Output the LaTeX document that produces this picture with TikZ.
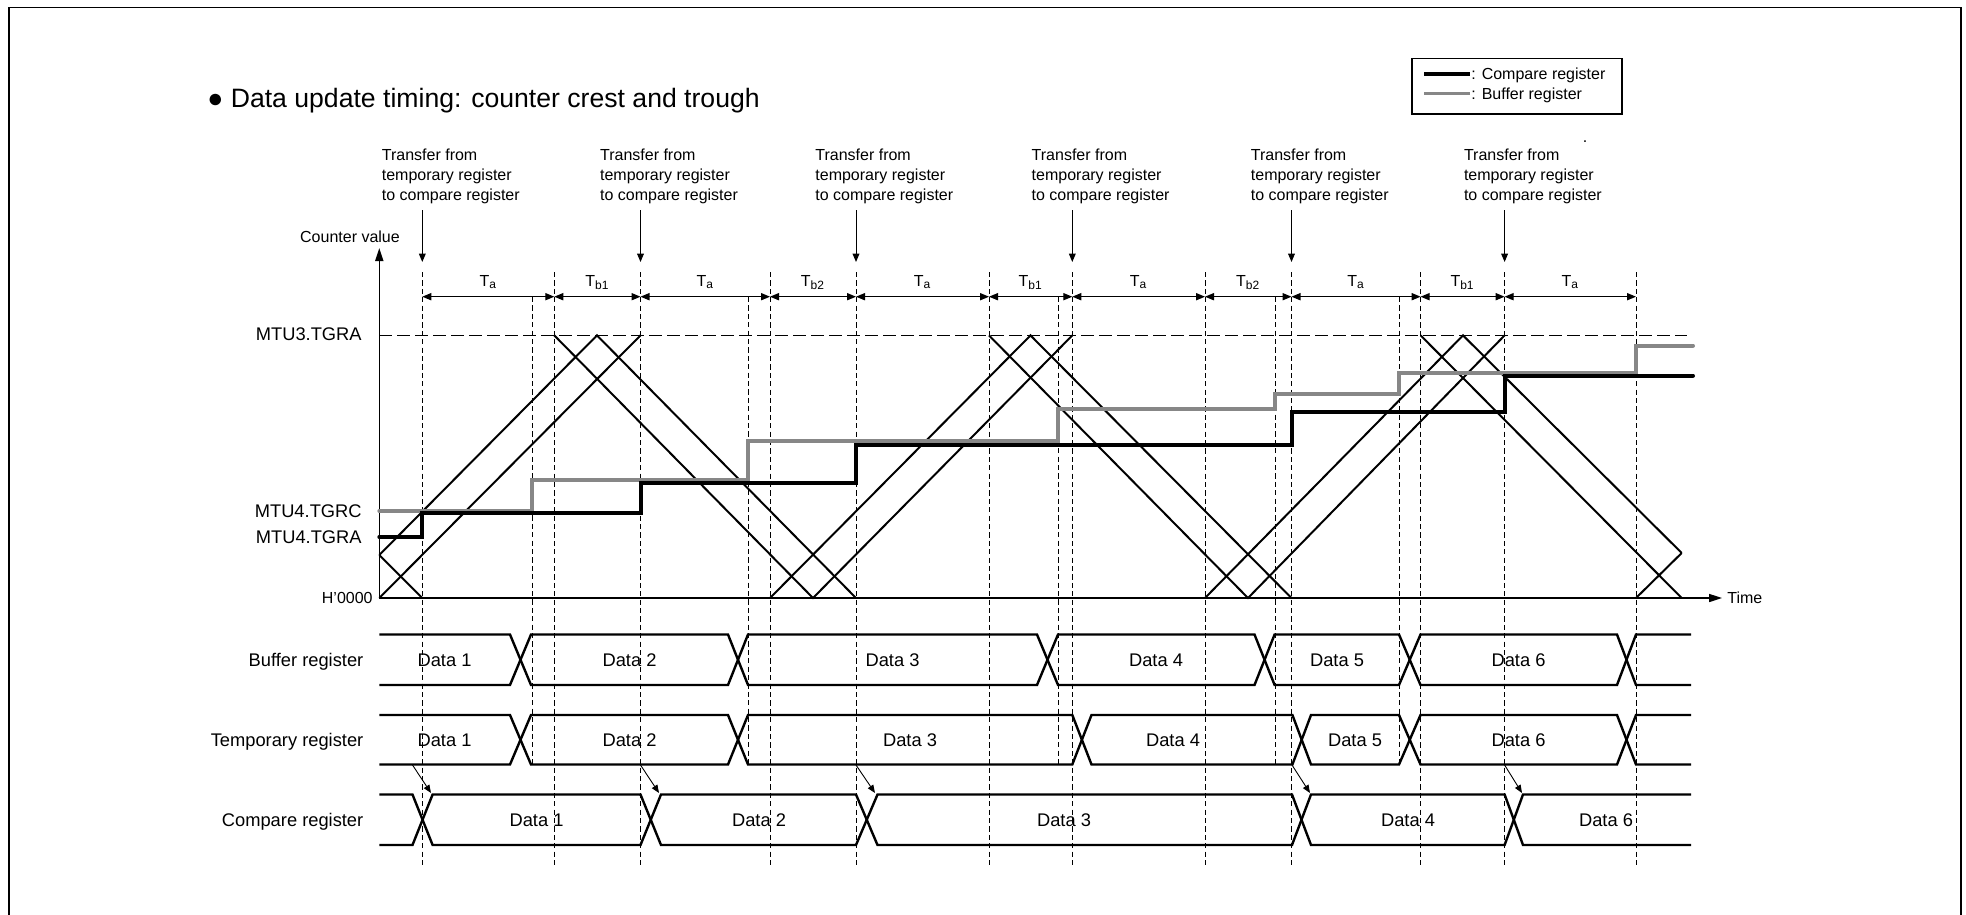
\documentclass[tikz,border=0pt]{standalone}
\usepackage{fontspec}
\setmainfont{Liberation Sans}
\usetikzlibrary{arrows.meta,positioning}
\definecolor{regBlack}{HTML}{000000}
\definecolor{regGray}{HTML}{878787}

\begin{document}
\begin{tikzpicture}[x=0.5pt,y=-0.5pt,
  small/.style={font=\fontsize{8pt}{10pt}\selectfont,inner sep=0pt,text height=5.7pt,text depth=0pt},
  big/.style={font=\fontsize{9.15pt}{11pt}\selectfont,inner sep=0pt,text height=6.55pt,text depth=0pt},
  note/.style={font=\fontsize{8pt}{10pt}\selectfont,align=left,inner sep=0pt,anchor=north west},
  cnt/.style={line width=1pt},
  guide/.style={line width=0.5pt,dash pattern=on 2.6pt off 1.6pt},
  crestline/.style={line width=0.65pt,dash pattern=on 6.5pt off 2.5pt},
  axis/.style={line width=0.8pt,-{Triangle[length=6.5pt,width=4pt]}},
  dimarr/.style={line width=0.55pt,{Triangle[length=4.5pt,width=3.6pt]}-{Triangle[length=4.5pt,width=3.6pt]}},
  xfer/.style={line width=0.5pt,-{Triangle[length=4.2pt,width=3.4pt]}},
  hop/.style={line width=0.45pt,-{Triangle[length=4pt,width=3.2pt]}},
  bus/.style={line width=1.2pt},
  cmpreg/.style={line width=2pt,regBlack,line cap=round},
  bufreg/.style={line width=2pt,regGray,line cap=round}
]
  \useasboundingbox (0,0) rectangle (1966,915);
  \draw[line width=0.85pt] (8.7,915) -- (8.7,7.5) -- (1961,7.5) -- (1961,915);

  % ── Title and legend ──────────────────────────────────────────────────────
  \node[anchor=west,inner sep=0pt,text height=9.5pt,text depth=0pt,
        font=\fontsize{13.3pt}{16pt}\selectfont] (title) at (207,98)
        {● Data update timing: counter crest and trough};

  \draw[line width=0.55pt] (1412,58.3) rectangle (1622,114);
  \draw[line width=1.6pt,regBlack] (1424,74) -- (1470,74);
  \draw[line width=1.6pt,regGray]  (1424,93.5) -- (1470,93.5);
  \node[small,anchor=west] (legcmp) at (1471,74)   {: Compare register};
  \node[small,anchor=west] (legbuf) at (1471,93.5) {: Buffer register};
  \node[small] (dot) at (1585,137) {.};

  % ── Guide lines ───────────────────────────────────────────────────────────
  \draw[guide] (422.3,272)--(422.3,868);   \draw[guide] (554.3,272)--(554.3,868);
  \draw[guide] (640.5,272)--(640.5,868);   \draw[guide] (770,272)--(770,868);
  \draw[guide] (856,272)--(856,868);       \draw[guide] (989,272)--(989,868);
  \draw[guide] (1072.3,272)--(1072.3,868); \draw[guide] (1205,272)--(1205,868);
  \draw[guide] (1291.5,272)--(1291.5,868); \draw[guide] (1420.6,272)--(1420.6,868);
  \draw[guide] (1504.6,272)--(1504.6,868); \draw[guide] (1636,272)--(1636,868);
  \draw[guide] (532.3,297)--(532.3,765);   \draw[guide] (748,297)--(748,765);
  \draw[guide] (1058,297)--(1058,765);     \draw[guide] (1275,297)--(1275,765);
  \draw[guide] (1399,297)--(1399,765);

  % ── Transfer notes ────────────────────────────────────────────────────────
  \node[note] (tr1) at (381.5,148.5)  {Transfer from\\temporary register\\to compare register};
  \node[note] (tr2) at (599.7,148.5)  {Transfer from\\temporary register\\to compare register};
  \node[note] (tr3) at (815,148.5)    {Transfer from\\temporary register\\to compare register};
  \node[note] (tr4) at (1031.3,148.5) {Transfer from\\temporary register\\to compare register};
  \node[note] (tr5) at (1250.5,148.5) {Transfer from\\temporary register\\to compare register};
  \node[note] (tr6) at (1463.6,148.5) {Transfer from\\temporary register\\to compare register};

  \draw[xfer] (422.3,210)--(422.3,262);   \draw[xfer] (640.5,210)--(640.5,262);
  \draw[xfer] (856,210)--(856,262);       \draw[xfer] (1072.3,210)--(1072.3,262);
  \draw[xfer] (1291.5,210)--(1291.5,262); \draw[xfer] (1504.6,210)--(1504.6,262);

  % ── Periods ───────────────────────────────────────────────────────────────
  \draw[dimarr] (422.3,296.7)--(554.3,296.7)   node[midway,above=4.75pt,small] (pa1) {T\textsubscript{a}};
  \draw[dimarr] (554.3,296.7)--(640.5,296.7)   node[midway,above=4.75pt,small] (pb1) {T\textsubscript{b1}};
  \draw[dimarr] (640.5,296.7)--(770,296.7)     node[midway,above=4.75pt,small] (pa2) {T\textsubscript{a}};
  \draw[dimarr] (770,296.7)--(856,296.7)       node[midway,above=4.75pt,small] (pb2) {T\textsubscript{b2}};
  \draw[dimarr] (856,296.7)--(989,296.7)       node[midway,above=4.75pt,small] (pa3) {T\textsubscript{a}};
  \draw[dimarr] (989,296.7)--(1072.3,296.7)    node[midway,above=4.75pt,small] (pb3) {T\textsubscript{b1}};
  \draw[dimarr] (1072.3,296.7)--(1205,296.7)   node[midway,above=4.75pt,small] (pa4) {T\textsubscript{a}};
  \draw[dimarr] (1205,296.7)--(1291.5,296.7)   node[midway,above=4.75pt,small] (pb4) {T\textsubscript{b2}};
  \draw[dimarr] (1291.5,296.7)--(1420.6,296.7) node[midway,above=4.75pt,small] (pa5) {T\textsubscript{a}};
  \draw[dimarr] (1420.6,296.7)--(1504.6,296.7) node[midway,above=4.75pt,small] (pb5) {T\textsubscript{b1}};
  \draw[dimarr] (1504.6,296.7)--(1636,296.7)   node[midway,above=4.75pt,small] (pa6) {T\textsubscript{a}};

  % ── Counter plot ──────────────────────────────────────────────────────────
  \draw[crestline] (379.3,335.4) -- (1687,335.4);
  \draw[axis] (379.3,598) -- (379.3,248);
  \draw[axis] (379.3,598) -- (1722,598);
  \node[small] (cval) at (350,237) {Counter value};
  \node[small,anchor=west] (time) at (1727,598) {Time};
  \node[big,anchor=east]   (mtu3a) at (362,334)   {MTU3.TGRA};
  \node[big,anchor=east]   (mtu4c) at (362,510.7) {MTU4.TGRC};
  \node[big,anchor=east]   (mtu4a) at (362,536.7) {MTU4.TGRA};
  \node[small,anchor=east] (zero)  at (373,598)   {H'0000};

  \draw[cnt] (379.3,598) -- (640.5,335.4);
  \draw[cnt] (379.3,555) -- (597,335.4) -- (856,598);
  \draw[cnt] (379.3,555) -- (422.3,598);
  \draw[cnt] (554.3,335.4) -- (813,598) -- (1072.3,335.4);
  \draw[cnt] (770,598) -- (1030.5,335.4) -- (1291.5,598);
  \draw[cnt] (989,335.4) -- (1248,598) -- (1504.6,335.4);
  \draw[cnt] (1205,598) -- (1463,335.4) -- (1681.7,553);
  \draw[cnt] (1420.6,335.4) -- (1681.7,598);
  \draw[cnt] (1636,598) -- (1681.7,553);

  \draw[bufreg] (379.3,511) -- (532.3,511) -- (532.3,480) -- (748,480) -- (748,441)
    -- (1058,441) -- (1058,409) -- (1275,409) -- (1275,393.5) -- (1399,393.5)
    -- (1399,373) -- (1636,373) -- (1636,345.5) -- (1693,345.5);
  \draw[cmpreg] (379.3,537) -- (422.3,537) -- (422.3,513) -- (640.5,513) -- (640.5,482.5)
    -- (856,482.5) -- (856,445) -- (1291.5,445) -- (1291.5,412) -- (1504.6,412)
    -- (1504.6,375.5) -- (1693,375.5);

  % ── Register lanes ────────────────────────────────────────────────────────
  \node[big,anchor=east] (lbuf) at (363.7,660) {Buffer register};
  \node[big,anchor=east] (ltmp) at (363.7,740) {Temporary register};
  \node[big,anchor=east] (lcmp) at (363.7,820) {Compare register};

  \draw[bus] (379.3,634.5) -- (510,634.5) -- (531,685) -- (728,685) -- (748,634.5) -- (1037,634.5)
    -- (1058,685) -- (1254.5,685) -- (1274.6,634.5) -- (1399,634.5) -- (1420.5,685) -- (1617,685)
    -- (1636,634.5) -- (1691,634.5);
  \draw[bus] (379.3,685) -- (510,685) -- (531,634.5) -- (728,634.5) -- (748,685) -- (1037,685)
    -- (1058,634.5) -- (1254.5,634.5) -- (1274.6,685) -- (1399,685) -- (1420.5,634.5) -- (1617,634.5)
    -- (1636,685) -- (1691,685);

  \draw[bus] (379.3,715) -- (510,715) -- (531,764.5) -- (728,764.5) -- (748,715) -- (1072.3,715)
    -- (1091.5,764.5) -- (1292.4,764.5) -- (1311,715) -- (1399,715) -- (1420.5,764.5) -- (1617,764.5)
    -- (1636,715) -- (1691,715);
  \draw[bus] (379.3,764.5) -- (510,764.5) -- (531,715) -- (728,715) -- (748,764.5) -- (1072.3,764.5)
    -- (1091.5,715) -- (1292.4,715) -- (1311,764.5) -- (1399,764.5) -- (1420.5,715) -- (1617,715)
    -- (1636,764.5) -- (1691,764.5);

  \draw[bus] (379.3,794.5) -- (412.5,794.5) -- (432.6,845) -- (640.5,845) -- (661,794.5) -- (856,794.5)
    -- (877.5,845) -- (1292,845) -- (1311,794.5) -- (1504.6,794.5) -- (1523,845) -- (1691,845);
  \draw[bus] (379.3,845) -- (412.5,845) -- (432.6,794.5) -- (640.5,794.5) -- (661,845) -- (856,845)
    -- (877.5,794.5) -- (1292,794.5) -- (1311,845) -- (1504.6,845) -- (1523,794.5) -- (1691,794.5);

  \node[big] (b1) at (444.5,660) {Data 1}; \node[big] (b2) at (629.5,660) {Data 2};
  \node[big] (b3) at (892.5,660) {Data 3}; \node[big] (b4) at (1156,660)  {Data 4};
  \node[big] (b5) at (1337,660)  {Data 5}; \node[big] (b6) at (1518.5,660) {Data 6};

  \node[big] (t1) at (444.5,740) {Data 1}; \node[big] (t2) at (629.5,740) {Data 2};
  \node[big] (t3) at (910,740)   {Data 3}; \node[big] (t4) at (1173,740)  {Data 4};
  \node[big] (t5) at (1355,740)  {Data 5}; \node[big] (t6) at (1518.5,740) {Data 6};

  \node[big] (c1) at (536.5,820) {Data 1}; \node[big] (c2) at (759,820)  {Data 2};
  \node[big] (c3) at (1064,820)  {Data 3}; \node[big] (c4) at (1408,820) {Data 4};
  \node[big] (c6) at (1606,820)  {Data 6};

  \draw[hop] (412.5,765)--(431,793);   \draw[hop] (640.5,765)--(659,793);
  \draw[hop] (856,765)--(875,793);     \draw[hop] (1292,765)--(1310,793);
  \draw[hop] (1504.6,765)--(1522,793);
\end{tikzpicture}
\end{document}
